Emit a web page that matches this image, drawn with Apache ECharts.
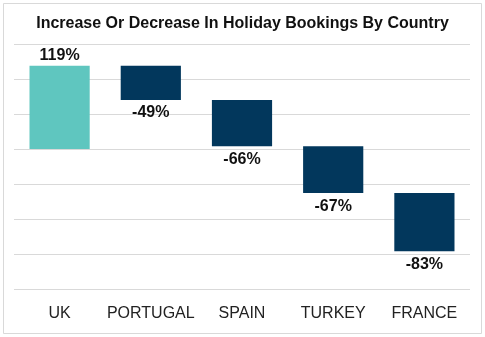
<!DOCTYPE html>
<html>
<head>
<meta charset="utf-8">
<script src="https://cdn.jsdelivr.net/npm/echarts@6/dist/echarts.min.js"></script>
<style>
  html, body { margin: 0; padding: 0; background: #fff; }
  #chart { width: 485px; height: 337px; }
</style>
</head>
<body>
<div id="chart"></div>
<script>
// Holiday booking changes by country (percent)
const countries = ['UK', 'PORTUGAL', 'SPAIN', 'TURKEY', 'FRANCE'];
const changes = [119, -49, -66, -67, -83];
const yTicks = { min: -200, max: 150, interval: 50 };

// Running totals give each bar's start and end for the waterfall
const segments = [];
let running = 0;
changes.forEach((c, i) => {
  const start = i === 0 ? 0 : running;
  const end = i === 0 ? c : running + c;
  segments.push([i, start, end, c]);
  running = end;
});

const chart = echarts.init(document.getElementById('chart'), null, { renderer: 'canvas' });

chart.setOption({
  animation: false,
  backgroundColor: '#ffffff',
  title: {
    text: 'Increase Or Decrease In Holiday Bookings By Country',
    left: 'center',
    top: 11,
    textStyle: { fontFamily: 'Liberation Sans', fontWeight: 'bold', fontSize: 16, color: '#111' }
  },
  grid: { left: 14, right: 15, top: 44, bottom: 48 },
  xAxis: {
    type: 'category',
    data: countries,
    axisLine: { show: false },
    axisTick: { show: false },
    axisLabel: { interval: 0, fontFamily: 'Liberation Sans', fontSize: 16, color: '#222', margin: 17 }
  },
  yAxis: {
    type: 'value',
    min: yTicks.min,
    max: yTicks.max,
    interval: yTicks.interval,
    axisLabel: { show: false },
    axisLine: { show: false },
    axisTick: { show: false },
    splitLine: { lineStyle: { color: '#d9d9d9', width: 1 } }
  },
  series: [{
    type: 'custom',
    data: segments,
    encode: { x: 0, y: [1, 2] },
    renderItem: function (params, api) {
      const idx = api.value(0);
      const start = api.value(1);
      const end = api.value(2);
      const change = api.value(3);
      const p0 = api.coord([idx, start]);
      const p1 = api.coord([idx, end]);
      const bandW = api.size([1, 0])[0];
      const w = bandW * 0.66;
      const top = Math.min(p0[1], p1[1]);
      const h = Math.abs(p1[1] - p0[1]);
      const color = change >= 0 ? '#5fc6bf' : '#02375c';
      const labelY = change >= 0 ? top - 10 : top + h + 13;
      return {
        type: 'group',
        children: [
          {
            type: 'rect',
            shape: { x: p0[0] - w / 2, y: top, width: w, height: h },
            style: { fill: color }
          },
          {
            type: 'text',
            style: {
              text: change + '%',
              x: p0[0],
              y: labelY,
              align: 'center',
              verticalAlign: 'middle',
              font: 'bold 16px "Liberation Sans"',
              fill: '#111'
            }
          }
        ]
      };
    }
  }],
  graphic: [{
    type: 'rect',
    shape: { x: 3.5, y: 3.5, width: 478, height: 330 },
    style: { fill: 'none', stroke: '#d9d9d9', lineWidth: 1 },
    silent: true
  }]
});
</script>
</body>
</html>
